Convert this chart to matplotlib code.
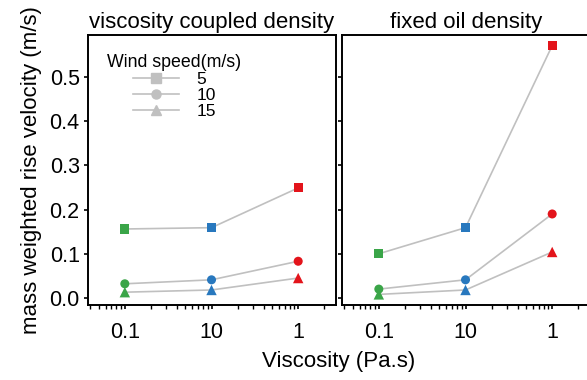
import matplotlib
matplotlib.use("Agg")
import matplotlib.pyplot as plt
from matplotlib.lines import Line2D
from matplotlib.ticker import LogLocator, NullFormatter, FixedLocator, FixedFormatter

plt.rcParams['font.family'] = ['Liberation Sans', 'DejaVu Sans']

# Data
viscosity = [0.1, 1, 10]
xtick_labels = ["0.1", "10", "1"]
point_colors = ["#3aa548", "#2878be", "#e3141b"]
wind_speeds = ["5", "10", "15"]
markers = ["s", "o", "^"]

coupled_5 = [0.156, 0.159, 0.249]
coupled_10 = [0.032, 0.041, 0.083]
coupled_15 = [0.013, 0.018, 0.045]

fixed_5 = [0.100, 0.159, 0.571]
fixed_10 = [0.020, 0.041, 0.190]
fixed_15 = [0.008, 0.018, 0.104]

panels = [
    ("viscosity coupled density", [coupled_5, coupled_10, coupled_15]),
    ("fixed oil density", [fixed_5, fixed_10, fixed_15]),
]

W, H = 587, 380
fig = plt.figure(figsize=(W / 100, H / 100), dpi=100)

def ax_rect(x0, y0, x1, y1):
    return [x0 / W, 1 - y1 / H, (x1 - x0) / W, (y1 - y0) / H]

axes = [fig.add_axes(ax_rect(88, 35, 336, 305)),
        fig.add_axes(ax_rect(342, 35, 590, 305))]

line_gray = "#c0c0c0"
msizes = {"s": 6.5, "o": 6.5, "^": 7.5}
FS = 15.5
for i, (ax, (title, series)) in enumerate(zip(axes, panels)):
    for vals, mk, lab in zip(series, markers, wind_speeds):
        ms = msizes[mk]
        ax.plot(viscosity, vals, color=line_gray, lw=1.2, zorder=2)
        ax.scatter(viscosity, vals, c=point_colors, marker=mk,
                   s=(ms ** 2), edgecolors='none', zorder=3)
    ax.set_xscale('log')
    ax.set_xlim(0.0376, 27.3)
    ax.set_ylim(-0.016, 0.595)
    ax.xaxis.set_major_locator(FixedLocator(viscosity))
    ax.xaxis.set_major_formatter(FixedFormatter(xtick_labels))
    ax.xaxis.set_minor_locator(LogLocator(base=10, subs=range(2, 10)))
    ax.xaxis.set_minor_formatter(NullFormatter())
    ax.set_yticks([0.0, 0.1, 0.2, 0.3, 0.4, 0.5])
    ax.tick_params(axis='x', which='major', length=3, width=1.2,
                   pad=9.0, labelsize=FS, direction='out')
    ax.tick_params(axis='x', which='minor', length=3, width=1.0,
                   direction='out')
    ax.tick_params(axis='y', which='major', length=3, width=1.2,
                   pad=3, labelsize=FS, direction='out')
    for sp in ax.spines.values():
        sp.set_linewidth(1.4)
        sp.set_color('black')
    ax.set_title(title, fontsize=FS + 0.5, pad=5)
    if i == 1:
        ax.set_yticklabels([])

axes[0].set_yticklabels(["0.0", "0.1", "0.2", "0.3", "0.4", "0.5"])
axes[0].set_ylabel("mass weighted rise velocity (m/s)", fontsize=16,
                   labelpad=5)

handles = [Line2D([], [], color=line_gray, lw=1.2, marker=mk,
                  markersize=msizes[mk], markerfacecolor=line_gray,
                  markeredgecolor=line_gray) for mk in markers]
leg = axes[0].legend(handles, wind_speeds, title="Wind speed(m/s)",
                     loc='upper left', bbox_to_anchor=(0.05, 0.955),
                     frameon=False, fontsize=12.5, title_fontsize=12.8,
                     handlelength=2.7, handletextpad=1.0, labelspacing=0.05,
                     borderaxespad=0)

fig.text(339 / W, 1 - 361 / H, "Viscosity (Pa.s)", ha='center',
         va='center', fontsize=16)

fig.savefig("out.png", dpi=100)
